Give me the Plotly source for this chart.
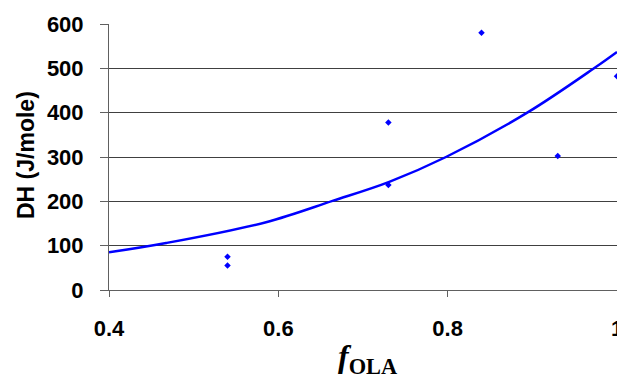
import plotly.graph_objects as go

# measured data points
f_ola = [0.54, 0.54, 0.73, 0.73, 0.84, 0.93, 1.0]
dh = [75, 55, 378, 237, 580, 302, 482]

# trend curve
trend_x = [0.4, 0.4675, 0.5855, 0.664, 0.731, 0.798, 0.894, 0.975, 1.0]
trend_y = [85, 106, 153, 201, 244, 300, 400, 503, 537]

x_ticks = [0.4, 0.6, 0.8, 1.0]
x_ticktext = ["0.4", "0.6", "0.8", "1"]
y_ticks = [0, 100, 200, 300, 400, 500, 600]

L, R, T, B = 109, 0, 24, 93
W, H = 617, 383

fig = go.Figure()
fig.add_trace(go.Scatter(x=trend_x, y=trend_y, mode="lines", line=dict(color="#0000FF", width=2.5, shape="spline", smoothing=1.0),
                         showlegend=False, hoverinfo="skip"))
fig.add_trace(go.Scatter(x=f_ola, y=dh, mode="markers",
                         marker=dict(symbol="diamond", size=5, color="#0000FF"), showlegend=False))

tickfont = dict(family="Liberation Sans, Arial", size=22, color="black", weight="bold")
fig.update_layout(
    width=W, height=H,
    margin=dict(l=L, r=R, t=T, b=B, autoexpand=False),
    paper_bgcolor="white", plot_bgcolor="white",
    xaxis=dict(range=[0.4, 1.0], tickvals=x_ticks, ticktext=x_ticktext, showgrid=False, automargin=False,
               showline=True, linecolor="#606060", linewidth=1, ticks="outside", ticklen=6,
               tickcolor="#606060", tickfont=tickfont, ticklabelstandoff=13, zeroline=False,
               ticklabeloverflow="allow"),
    yaxis=dict(range=[0, 600], tickvals=y_ticks, showgrid=True, gridcolor="#404040", gridwidth=1, automargin=False,
               showline=True, linecolor="#606060", linewidth=1, ticks="outside", ticklen=8,
               tickcolor="#606060", tickfont=tickfont, ticklabelstandoff=12, zeroline=False),
)

pw = W - L - R
ph = H - T - B


def ann(text, px, py, size, family, angle=0):
    fig.add_annotation(text=text, x=(px - L) / pw, y=(H - B - py) / ph, xref="paper", yref="paper",
                       showarrow=False, textangle=angle, xanchor="center", yanchor="middle",
                       font=dict(family=family, size=size, color="black"))


ann("<b>DH (J/mole)</b>", 26, 155, 23, "Liberation Sans, Arial", angle=-90)
ann("<b><i>f</i><sub>OLA</sub></b>", 367, 358, 32, "Liberation Serif, Times New Roman")

fig.write_html("out.html", config={"displayModeBar": False},
               post_script="document.body.style.margin='0';document.body.style.overflow='hidden';")
